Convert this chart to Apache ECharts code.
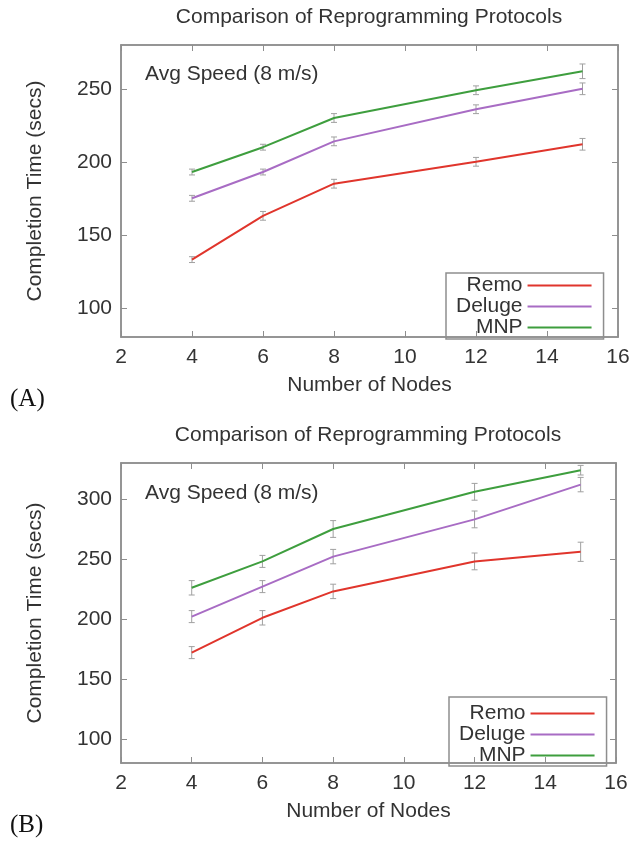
<!DOCTYPE html>
<html>
<head>
<meta charset="utf-8">
<script src="https://cdn.jsdelivr.net/npm/echarts@6/dist/echarts.min.js"></script>
<style>
html,body{margin:0;padding:0;background:#fff;}
#chart{width:633px;height:842px;}
</style>
</head>
<body>
<div id="chart"></div>
<script>
// ---- data ----
const nodes = [4, 6, 8, 12, 15];
const xTicks = [2, 4, 6, 8, 10, 12, 14, 16];
const yTicksA = [100, 150, 200, 250];
const yTicksB = [100, 150, 200, 250, 300];
const seriesNames = ['Remo', 'Deluge', 'MNP'];

const remoA = [133, 163, 185, 200, 212];
const delugeA = [175, 193, 214, 236, 250];
const mnpA = [193, 210, 230, 249, 262];
const remoErrA = [2, 3, 3, 3, 4];
const delugeErrA = [2, 2, 3, 3, 4];
const mnpErrA = [2, 2, 3, 3, 5];

const remoB = [172, 201, 223, 248, 256];
const delugeB = [202, 227, 252, 283, 312];
const mnpB = [226, 248, 275, 306, 324];
const remoErrB = [5, 6, 6, 7, 8];
const delugeErrB = [5, 5, 6, 7, 6];
const mnpErrB = [6, 5, 7, 7, 4];

// ---- styling ----
const colors = ['#e0352c', '#a86cc4', '#3e9e3e'];
const txt = '#333333';
const font = 'Liberation Sans, Arial, Helvetica, sans-serif';
const boxColor = '#8e8e8e';

function pairs(vals) { return nodes.map((n, i) => [n, vals[i]]); }
function errData(vals, errs) { return nodes.map((n, i) => [n, vals[i] - errs[i], vals[i] + errs[i]]); }

function errRender(params, api) {
  const x = api.value(0), lo = api.value(1), hi = api.value(2);
  const p1 = api.coord([x, lo]), p2 = api.coord([x, hi]);
  const w = 3;
  const st = { stroke: '#a0a0a0', lineWidth: 1 };
  return {
    type: 'group',
    children: [
      { type: 'line', shape: { x1: p1[0], y1: p1[1], x2: p2[0], y2: p2[1] }, style: st },
      { type: 'line', shape: { x1: p1[0] - w, y1: p1[1], x2: p1[0] + w, y2: p1[1] }, style: st },
      { type: 'line', shape: { x1: p2[0] - w, y1: p2[1], x2: p2[0] + w, y2: p2[1] }, style: st }
    ]
  };
}

function xAxes(gi) {
  return [
    {
      type: 'value', gridIndex: gi, position: 'bottom', min: xTicks[0], max: xTicks[xTicks.length - 1], interval: 2,
      name: 'Number of Nodes', nameLocation: 'middle', nameGap: 38,
      nameTextStyle: { fontFamily: font, fontSize: 21, color: txt },
      axisLine: { lineStyle: { color: boxColor, width: 1.5 } },
      axisTick: { inside: true, length: 6, lineStyle: { color: boxColor } },
      axisLabel: { fontFamily: font, fontSize: 21, color: txt, margin: 10 },
      splitLine: { show: false }
    },
    {
      type: 'value', gridIndex: gi, position: 'top', min: xTicks[0], max: xTicks[xTicks.length - 1], interval: 2,
      axisLine: { lineStyle: { color: boxColor, width: 1.5 } },
      axisTick: { inside: true, length: 6, lineStyle: { color: boxColor } },
      axisLabel: { show: false },
      splitLine: { show: false }
    }
  ];
}

function yAxes(gi, min, max, ticks) {
  return [
    {
      type: 'value', gridIndex: gi, position: 'left', min: min, max: max,
      name: 'Completion Time (secs)', nameLocation: 'middle', nameGap: 75,
      nameTextStyle: { fontFamily: font, fontSize: 21, color: txt },
      axisLine: { show: true, lineStyle: { color: boxColor, width: 1.5 } },
      axisTick: { show: true, inside: true, length: 6, lineStyle: { color: boxColor }, customValues: ticks },
      axisLabel: { fontFamily: font, fontSize: 21, color: txt, margin: 9, customValues: ticks },
      splitLine: { show: false }
    },
    {
      type: 'value', gridIndex: gi, position: 'right', min: min, max: max,
      axisLine: { show: true, lineStyle: { color: boxColor, width: 1.5 } },
      axisTick: { show: true, inside: true, length: 6, lineStyle: { color: boxColor }, customValues: ticks },
      axisLabel: { show: false, customValues: ticks },
      splitLine: { show: false }
    }
  ];
}

function lineSeries(name, vals, color, xi, yi) {
  return {
    type: 'line', name: name, data: pairs(vals), xAxisIndex: xi, yAxisIndex: yi,
    symbol: 'none', lineStyle: { color: color, width: 2 }, itemStyle: { color: color },
    z: 3, animation: false
  };
}
function errSeries(vals, errs, xi, yi) {
  return {
    type: 'custom', data: errData(vals, errs), xAxisIndex: xi, yAxisIndex: yi,
    encode: { x: 0, y: [1, 2] }, renderItem: errRender, z: 2, silent: true, animation: false
  };
}

const legendBase = {
  orient: 'vertical', align: 'right', data: seriesNames,
  icon: 'rect', itemWidth: 64, itemHeight: 2, itemGap: 0,
  borderColor: boxColor, borderWidth: 1.5, borderRadius: 0,
  textStyle: { fontFamily: font, fontSize: 21, color: txt, lineHeight: 19 },
  selectedMode: false
};

const option = {
  backgroundColor: '#ffffff',
  animation: false,
  title: [
    { text: 'Comparison of Reprogramming Protocols', left: 369, top: 7, textAlign: 'center', padding: 0,
      textStyle: { fontFamily: font, fontSize: 21, fontWeight: 'normal', color: txt } },
    { text: 'Comparison of Reprogramming Protocols', left: 368, top: 425, textAlign: 'center', padding: 0,
      textStyle: { fontFamily: font, fontSize: 21, fontWeight: 'normal', color: txt } },
    { text: 'Avg Speed (8 m/s)', left: 145, top: 64, padding: 0,
      textStyle: { fontFamily: font, fontSize: 21, fontWeight: 'normal', color: txt } },
    { text: 'Avg Speed (8 m/s)', left: 145, top: 483, padding: 0,
      textStyle: { fontFamily: font, fontSize: 21, fontWeight: 'normal', color: txt } },
    { text: '(A)', left: 10, top: 387, padding: 0,
      textStyle: { fontFamily: 'Liberation Serif, Times New Roman, serif', fontSize: 25, fontWeight: 'normal', color: '#111' } },
    { text: '(B)', left: 10, top: 813, padding: 0,
      textStyle: { fontFamily: 'Liberation Serif, Times New Roman, serif', fontSize: 25, fontWeight: 'normal', color: '#111' } }
  ],
  legend: [
    Object.assign({}, legendBase, { left: 446, top: 273, padding: [2, 12, 1, 10] }),
    Object.assign({}, legendBase, { left: 449, top: 697, padding: [6, 12, 0, 10],
      textStyle: { fontFamily: font, fontSize: 21, color: txt, lineHeight: 20 } })
  ],
  grid: [
    { left: 121, top: 45, width: 497, height: 292, show: true, borderColor: boxColor, borderWidth: 1.5, backgroundColor: 'transparent' },
    { left: 121, top: 463, width: 495, height: 300, show: true, borderColor: boxColor, borderWidth: 1.5, backgroundColor: 'transparent' }
  ],
  xAxis: [].concat(xAxes(0), xAxes(1)),
  yAxis: [].concat(yAxes(0, 80, 280, yTicksA), yAxes(1, 80, 330, yTicksB)),
  series: [
    errSeries(remoA, remoErrA, 0, 0),
    errSeries(delugeA, delugeErrA, 0, 0),
    errSeries(mnpA, mnpErrA, 0, 0),
    lineSeries('Remo', remoA, colors[0], 0, 0),
    lineSeries('Deluge', delugeA, colors[1], 0, 0),
    lineSeries('MNP', mnpA, colors[2], 0, 0),
    errSeries(remoB, remoErrB, 2, 2),
    errSeries(delugeB, delugeErrB, 2, 2),
    errSeries(mnpB, mnpErrB, 2, 2),
    lineSeries('Remo', remoB, colors[0], 2, 2),
    lineSeries('Deluge', delugeB, colors[1], 2, 2),
    lineSeries('MNP', mnpB, colors[2], 2, 2)
  ]
};

const chart = echarts.init(document.getElementById('chart'), null, { renderer: 'canvas' });
chart.setOption(option);
</script>
</body>
</html>
